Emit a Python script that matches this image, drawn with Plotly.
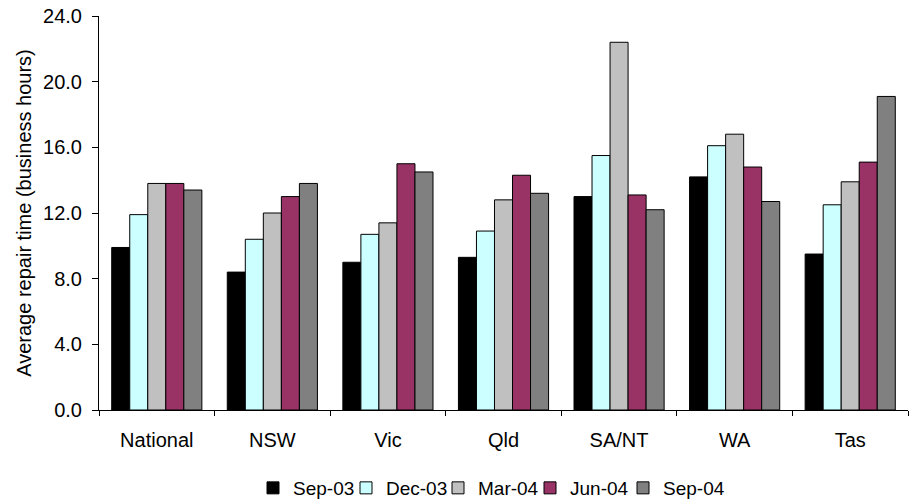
import plotly.graph_objects as go

categories = ["National", "NSW", "Vic", "Qld", "SA/NT", "WA", "Tas"]
series_names = ["Sep-03", "Dec-03", "Mar-04", "Jun-04", "Sep-04"]
sep03 = [9.9, 8.4, 9.0, 9.3, 13.0, 14.2, 9.5]
dec03 = [11.9, 10.4, 10.7, 10.9, 15.5, 16.1, 12.5]
mar04 = [13.8, 12.0, 11.4, 12.8, 22.4, 16.8, 13.9]
jun04 = [13.8, 13.0, 15.0, 14.3, 13.1, 14.8, 15.1]
sep04 = [13.4, 13.8, 14.5, 13.2, 12.2, 12.7, 19.1]
colors = ["#000000", "#CCFFFF", "#C0C0C0", "#993366", "#808080"]
y_ticks = [0, 4, 8, 12, 16, 20, 24]

legend_px = [253, 346, 438, 530, 623]
W, H = 914, 502

fig = go.Figure()
legend_ids = ["legend"] + [f"legend{i}" for i in range(2, 6)]
for name, vals, col, lid in zip(series_names, [sep03, dec03, mar04, jun04, sep04], colors, legend_ids):
    fig.add_trace(go.Bar(x=categories, y=vals, name=name, legend=lid,
                         marker=dict(color=col, line=dict(color="#000000", width=1))))

layout_legends = {}
for lid, px in zip(legend_ids, legend_px):
    layout_legends[lid] = dict(orientation="h", xref="container", yref="container",
                               x=px / W, xanchor="left",
                               y=(H - 488) / H, yanchor="middle", font=dict(size=19),
                               itemwidth=30, bgcolor="rgba(0,0,0,0)")

fig.update_layout(
    width=W, height=H,
    margin=dict(l=99, r=6, t=16, b=92, autoexpand=False),
    paper_bgcolor="white", plot_bgcolor="white",
    font=dict(family="Liberation Sans, Arial, sans-serif", size=20, color="#000000"),
    barmode="group", bargap=0.22, bargroupgap=0,
    showlegend=True,
    **layout_legends,
)
fig.update_xaxes(showline=True, linecolor="#000000", linewidth=1, ticks="outside",
                 tickson="boundaries", ticklen=5, tickcolor="#000000", showgrid=False,
                 tickfont=dict(size=20), ticklabelstandoff=12, automargin=False,
                 ticklabeloverflow="allow")
fig.update_yaxes(range=[0, 24], tickvals=y_ticks, ticktext=[f"{v:.1f}" for v in y_ticks],
                 showline=True, linecolor="#000000", linewidth=1, ticks="outside",
                 ticklen=6, tickcolor="#000000", showgrid=False, zeroline=False,
                 tickfont=dict(size=20), ticklabelstandoff=6, automargin=False,
                 ticklabeloverflow="allow",
                 title=dict(text="Average repair time (business hours)", font=dict(size=20), standoff=6))

fig.write_html("out.html", config={"displayModeBar": False},
               post_script="document.body.style.margin='0';")
